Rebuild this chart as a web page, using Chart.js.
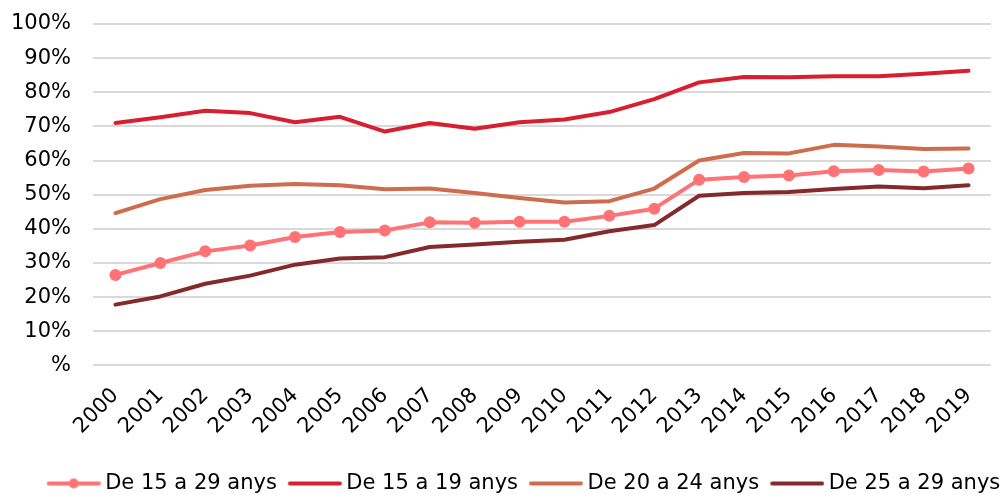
<!DOCTYPE html>
<html>
<head>
<meta charset="utf-8">
<script src="https://cdn.jsdelivr.net/npm/chart.js@4/dist/chart.umd.min.js"></script>
<style>
html,body{margin:0;padding:0;background:#fff;}
#wrap{width:1003px;height:495px;position:relative;}
</style>
</head>
<body>
<div id="wrap"><canvas id="c" width="1003" height="495"></canvas></div>
<script>
const years = ["2000","2001","2002","2003","2004","2005","2006","2007","2008","2009","2010","2011","2012","2013","2014","2015","2016","2017","2018","2019"];
const s15_29 = [26.5,30.0,33.4,35.1,37.6,39.1,39.5,41.9,41.8,42.1,42.1,43.8,45.9,54.4,55.2,55.6,56.9,57.2,56.8,57.7];
const s15_19 = [71.0,72.7,74.6,73.9,71.2,72.8,68.5,71.0,69.3,71.2,72.0,74.2,78.0,82.9,84.5,84.4,84.7,84.7,85.4,86.3];
const s20_24 = [44.6,48.7,51.4,52.6,53.1,52.8,51.6,51.8,50.5,49.0,47.7,48.1,51.8,60.0,62.2,62.1,64.6,64.1,63.4,63.5];
const s25_29 = [17.8,20.2,23.9,26.3,29.5,31.3,31.7,34.7,35.4,36.2,36.8,39.3,41.1,49.7,50.5,50.8,51.7,52.4,51.9,52.8];
const seriesLabels = ["De 15 a 29 anys","De 15 a 19 anys","De 20 a 24 anys","De 25 a 29 anys"];
const yTicks = [0,10,20,30,40,50,60,70,80,90,100];

const colors = ["#FF7376","#D71F2F","#CD6D4D","#842A2A"];
const FONT = "'DejaVu Sans', Verdana, sans-serif";

function legendImg(color, marker){
  const c = document.createElement('canvas');
  c.width = 64; c.height = 14;
  const g = c.getContext('2d');
  g.strokeStyle = color; g.lineWidth = 4; g.lineCap = 'round';
  g.beginPath(); g.moveTo(12,7); g.lineTo(62,7); g.stroke();
  if (marker){ g.fillStyle = color; g.beginPath(); g.arc(37,7,5,0,Math.PI*2); g.fill(); }
  return c;
}

const dataArrays = [s15_29, s15_19, s20_24, s25_29];
const datasets = dataArrays.map((d,i)=>({
  label: seriesLabels[i],
  data: d,
  borderColor: colors[i],
  backgroundColor: colors[i],
  borderWidth: 4,
  pointRadius: i===0 ? 6 : 0,
  pointHoverRadius: i===0 ? 6 : 0,
  pointBackgroundColor: colors[i],
  pointBorderWidth: 0,
  tension: 0,
  borderCapStyle: 'round',
  borderJoinStyle: 'round'
}));

const shiftLegend = {
  id: 'shiftLegend',
  afterLayout(chart){
    const lg = chart.legend;
    if (lg){ lg.left += 20; lg.right += 20; }
  }
};

new Chart(document.getElementById('c'), {
  type: 'line',
  data: { labels: years, datasets },
  plugins: [shiftLegend],
  options: {
    responsive: false,
    animation: false,
    layout: { padding: { left: 12, right: 12, top: 24, bottom: -9 } },
    plugins: {
      tooltip: { enabled: false },
      legend: {
        position: 'bottom',
        labels: {
          usePointStyle: true,
          pointStyleWidth: 52,
          padding: 7,
          color: '#000',
          font: { family: FONT, size: 21 },
          generateLabels(chart){
            return chart.data.datasets.map((ds,i)=>({
              text: ds.label,
              pointStyle: legendImg(ds.borderColor, i===0),
              fillStyle: ds.borderColor,
              strokeStyle: ds.borderColor,
              lineWidth: 0,
              hidden: false,
              datasetIndex: i,
              fontColor: '#000'
            }));
          }
        }
      }
    },
    scales: {
      x: {
        offset: true,
        grid: { display: false, drawTicks: false },
        border: { display: false },
        afterFit(axis){ axis.paddingLeft = 0; axis.paddingRight = 0; axis.height += 9; },
        ticks: {
          color: '#000',
          font: { family: FONT, size: 21 },
          maxRotation: 45, minRotation: 45,
          padding: 18,
          autoSkip: false
        }
      },
      y: {
        min: 0, max: 100,
        afterBuildTicks(axis){ axis.ticks = yTicks.map(v=>({value:v})); },
        afterFit(axis){ axis.width = 81; axis.paddingTop = 0; axis.paddingBottom = 0; },
        grid: { color: '#D9D9D9', lineWidth: 2, drawTicks: false },
        border: { display: false },
        ticks: {
          color: '#000',
          font: { family: FONT, size: 21 },
          padding: 22,
          callback: v => v === 0 ? '%' : v + '%'
        }
      }
    }
  }
});
</script>
</body>
</html>
